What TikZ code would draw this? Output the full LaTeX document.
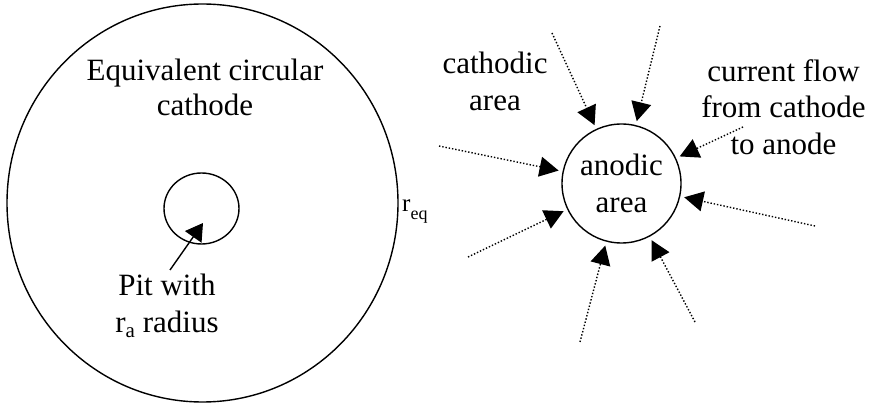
\documentclass[tikz,border=0pt]{standalone}
\usepackage{fontspec}
\setmainfont{Liberation Serif}
\usetikzlibrary{arrows.meta,shapes.geometric}
% lowered index set in a smaller size, taking no vertical room
\newcommand{\lowidx}[3]{\raisebox{-#2}[0pt][0pt]{\fontsize{#3}{#3}\selectfont #1}}
\begin{document}
\begin{tikzpicture}[x=1pt,y=-1pt,
  outline/.style={draw, line width=1.4pt, inner sep=0pt},
  lbl/.style={font=\fontsize{31}{36.4}\selectfont, align=center, inner sep=0pt},
  flow/.style={line width=1.4pt, dash pattern=on 1.4pt off 1.9pt,
    -{Triangle[length=19pt,width=20pt]}, shorten >=4pt},
  pointer/.style={line width=1.4pt, -{Triangle[length=17pt,width=20pt]}}]
\useasboundingbox (0,0) rectangle (873,403);

% left: equivalent circular cathode with the pit
\node[outline, ellipse, minimum width=391pt, minimum height=398pt] (cathode) at (202.5,203) {};
\node[outline, ellipse, minimum width=75pt, minimum height=71pt] (pit) at (201.5,208.5) {};
\node[lbl, font=\fontsize{31}{34.3}\selectfont] (title) at (205,87.4) {Equivalent circular\\cathode};
\node[lbl, font=\fontsize{31}{36.3}\selectfont] (pitlabel) at (167,303.4) {Pit with\\r\lowidx{a}{5pt}{21} radius};
\node[inner sep=0pt, anchor=base west, font=\fontsize{25}{25}\selectfont] (req) at (402,211.7) {r\lowidx{eq}{8pt}{18}};
\coordinate (pitTail) at (170,270);
\coordinate (pitTip) at (203,223);
\draw[pointer] (pitTail) -- (pitTip);

% right: anodic area fed by current from the cathodic area
\node[outline, circle, minimum size=119pt, lbl] (anode) at (621.5,183.5) {anodic\\area};
\node[lbl, font=\fontsize{31}{37}\selectfont] (cathlabel) at (495,81) {cathodic\\area};
\node[lbl, font=\fontsize{31}{36.5}\selectfont] (flowlabel) at (783.5,107) {current flow\\from cathode\\to anode};

\coordinate (s1) at (552,33);
\coordinate (s2) at (660,26);
\coordinate (s3) at (743,127);
\coordinate (s4) at (815,226);
\coordinate (s5) at (695,322);
\coordinate (s6) at (580,342);
\coordinate (s7) at (468,257);
\coordinate (s8) at (439,146);
\foreach \s in {s1,s2,s3,s4,s5,s6,s7,s8}
  \draw[flow] (\s) -- (anode);
\end{tikzpicture}
\end{document}
